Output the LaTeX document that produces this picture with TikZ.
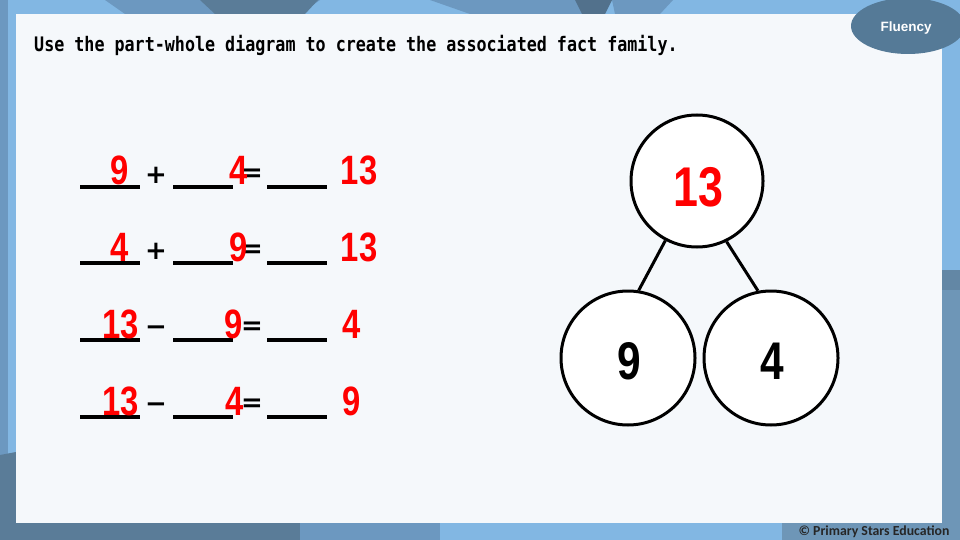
\documentclass[tikz,border=0pt]{standalone}
\usepackage{fontspec}
\newfontfamily\ttlfont{DejaVu Sans Mono}[FakeStretch=0.835]
\newfontfamily\numfont{Liberation Sans}[FakeStretch=0.8]
\newfontfamily\opfont{DejaVu Sans}
\newfontfamily\cpfont{Carlito}
\newfontfamily\flfont{Liberation Sans}
\definecolor{bgl}{HTML}{82B7E3}
\definecolor{bgm}{HTML}{6C98C0}
\definecolor{bgd}{HTML}{5A7C98}
\definecolor{bgdd}{HTML}{52718C}
\definecolor{bgc}{HTML}{6E96B7}
\definecolor{panel}{HTML}{F5F8FB}
\definecolor{flu}{HTML}{557A97}
\definecolor{numred}{HTML}{FF0000}
\tikzset{
  rd/.style={text=numred, font=\numfont\bfseries\fontsize{41}{41}\selectfont, inner sep=0pt, anchor=base},
  op/.style={font=\opfont\bfseries\fontsize{26}{26}\selectfont, inner sep=0pt, anchor=center},
  blank/.style={line width=3.5pt},
  pw/.style={circle, draw=black, line width=3pt, fill=white, inner sep=0pt},
  link/.style={line width=3pt},
}
\begin{document}
\begin{tikzpicture}[x=1pt,y=-1pt]
\useasboundingbox (0,0) rectangle (960,540);
% background
\fill[bgl] (0,0) rectangle (960,540);
\fill[bgm] (105,0) -- (320,0) -- (300,14) -- (125,14) -- cycle;
\fill[bgd] (200,0) -- (318,0) -- (305,14) -- (215,14) -- cycle;
\fill[bgm] (430,0) -- (612,0) -- (600,14) -- (470,14) -- cycle;
\fill[bgdd] (575,0) -- (612,0) -- (605,14) -- (582,14) -- cycle;
\fill[bgm] (612,0) -- (673,0) -- (660,14) -- (615,14) -- cycle;
\fill[bgm] (0,0) rectangle (8,540);
\fill[bgd] (0,455) -- (16,452) -- (16,540) -- (0,540) -- cycle;
\fill[bgd] (0,523) rectangle (300,540);
\fill[bgm] (300,523) rectangle (440,540);
\fill[bgc] (942,270) rectangle (960,540);
\fill[bgc!90!black] (942,270) rectangle (960,290);
\fill[bgc] (782,523) rectangle (960,540);
% panel
\fill[panel] (16,14) rectangle (942,523);
% fluency badge
\fill[flu] (908,26) ellipse [x radius=57, y radius=28];
\node[text=white, font=\flfont\bfseries\fontsize{13.5}{13.5}\selectfont, inner sep=0pt] (flu) at (906,28) {Fluency};
% copyright
\node[text=black!85, font=\cpfont\bfseries\fontsize{13.8}{13.8}\selectfont, inner sep=0pt] (copy) at (874,532) {© Primary Stars Education};
% title
\node[anchor=base west, inner sep=0pt, font=\ttlfont\bfseries\fontsize{20}{20}\selectfont] (title) at (34,52) {Use the part-whole diagram to create the associated fact family.};
% blanks
\foreach \y [count=\i] in {187,263,340,417} {
  \coordinate (a\i) at (80,\y); \coordinate (b\i) at (140,\y);
  \coordinate (c\i) at (173,\y); \coordinate (d\i) at (233,\y);
  \coordinate (e\i) at (267,\y); \coordinate (f\i) at (327,\y);
  \draw[blank] (a\i) -- (b\i);
  \draw[blank] (c\i) -- (d\i);
  \draw[blank] (e\i) -- (f\i);
  \node[op] (eq\i) at (252,\y-12) {=};
}
\node[op] (p1) at (156,175) {+};
\node[op] (p2) at (156,251) {+};
\node[op] (m3) at (156,331) {−};
\node[op] (m4) at (156,408) {−};
% red answers
\node[rd] (r11) at (120,185) {9};
\node[rd] (r12) at (239,185) {4};
\node[rd] (r13) at (359,185) {13};
\node[rd] (r21) at (120,261) {4};
\node[rd] (r22) at (239,261) {9};
\node[rd] (r23) at (359,261) {13};
\node[rd] (r31) at (121,338) {13};
\node[rd] (r32) at (234,338) {9};
\node[rd] (r33) at (352,338) {4};
\node[rd] (r41) at (121,415) {13};
\node[rd] (r42) at (235,415) {4};
\node[rd] (r43) at (352,415) {9};
% part-whole diagram
\node[pw, minimum size=132pt] (whole) at (697,181) {};
\node[pw, minimum size=134pt] (partA) at (628,358) {};
\node[pw, minimum size=134pt] (partB) at (771,358) {};
\draw[link] (whole.242.7) -- (partA.81.4);
\draw[link] (whole.296.6) -- (partB.101);
\node[text=numred, font=\numfont\bfseries\fontsize{56}{56}\selectfont, inner sep=0pt] (wn) at (698,187) {13};
\node[font=\numfont\bfseries\fontsize{53}{53}\selectfont, inner sep=0pt] (an) at (629,361) {9};
\node[font=\numfont\bfseries\fontsize{53}{53}\selectfont, inner sep=0pt] (bn) at (772,361) {4};
\end{tikzpicture}
\end{document}
